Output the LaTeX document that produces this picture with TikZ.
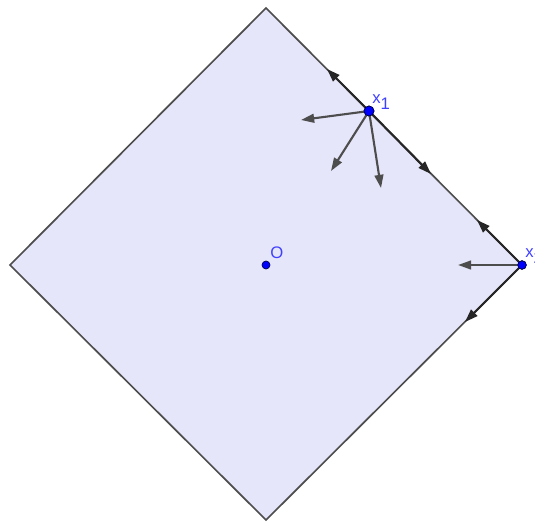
\documentclass[tikz,border=0pt]{standalone}
\usepackage{fontspec}
\setmainfont{Liberation Sans}
\usetikzlibrary{arrows.meta}
\definecolor{glav}{HTML}{E6E6FA}
\definecolor{gedge}{HTML}{4D4D4D}
\definecolor{gblue}{HTML}{0000FF}
\definecolor{glbl}{HTML}{4040FF}
\tikzset{
  edge/.style={draw=gedge,line width=0.95pt,line join=miter},
  vec/.style={-{Triangle[length=7.5pt,width=5pt]},line width=1.2pt,draw=gedge},
  tvec/.style={-{Triangle[length=7.5pt,width=5pt]},line width=1.2pt,draw=black!85},
  pt/.style={circle,fill=gblue,draw=black!70!blue,line width=0.4pt,inner sep=0pt},
  lbl/.style={text=glbl,font=\fontsize{9.5}{11}\selectfont,inner sep=0pt},
}
\begin{document}
\begin{tikzpicture}[x=0.02cm,y=-0.02cm]
  \useasboundingbox (0,0) rectangle (535,525);
  % diamond
  \coordinate (top) at (266,8);
  \coordinate (rgt) at (522,265);
  \coordinate (bot) at (266,520);
  \coordinate (lft) at (10,265);
  \draw[edge,fill=glav] (top) -- (rgt) -- (bot) -- (lft) -- cycle;
  % tips of the vectors
  \coordinate (a1) at (301,120);
  \coordinate (a2) at (331,171);
  \coordinate (a3) at (381,188);
  \coordinate (t1) at (327,69);
  \coordinate (t2) at (431,174);
  \coordinate (b1) at (458,265);
  \coordinate (s1) at (477,220);
  \coordinate (s2) at (465,322);
  % points
  \node[pt,minimum size=0.16cm] (O) at (266,265) {};
  \node[pt,minimum size=0.2cm] (x1) at (369,111) {};
  \node[pt,minimum size=0.17cm] (x2) at (522,265) {};
  % vectors at x1 and x2
  \draw[vec] (x1.center) -- (a1);
  \draw[vec] (x1.center) -- (a2);
  \draw[vec] (x1.center) -- (a3);
  \draw[tvec] (x1.center) -- (t1);
  \draw[tvec] (x1.center) -- (t2);
  \draw[vec] (x2.center) -- (b1);
  \draw[tvec] (x2.center) -- (s1);
  \draw[tvec] (x2.center) -- (s2);
  \node[pt,minimum size=0.2cm] at (x1) {};
  \node[pt,minimum size=0.17cm] at (x2) {};
  % labels
  \node[lbl,anchor=base west] (lO) at (270,258) {O};
  \node[lbl,anchor=base west] (lx1) at (372,103) {x\raisebox{-3.5pt}{1}};
  \node[lbl,anchor=base west] (lx2) at (525,257) {x\raisebox{-3.5pt}{2}};
\end{tikzpicture}
\end{document}
